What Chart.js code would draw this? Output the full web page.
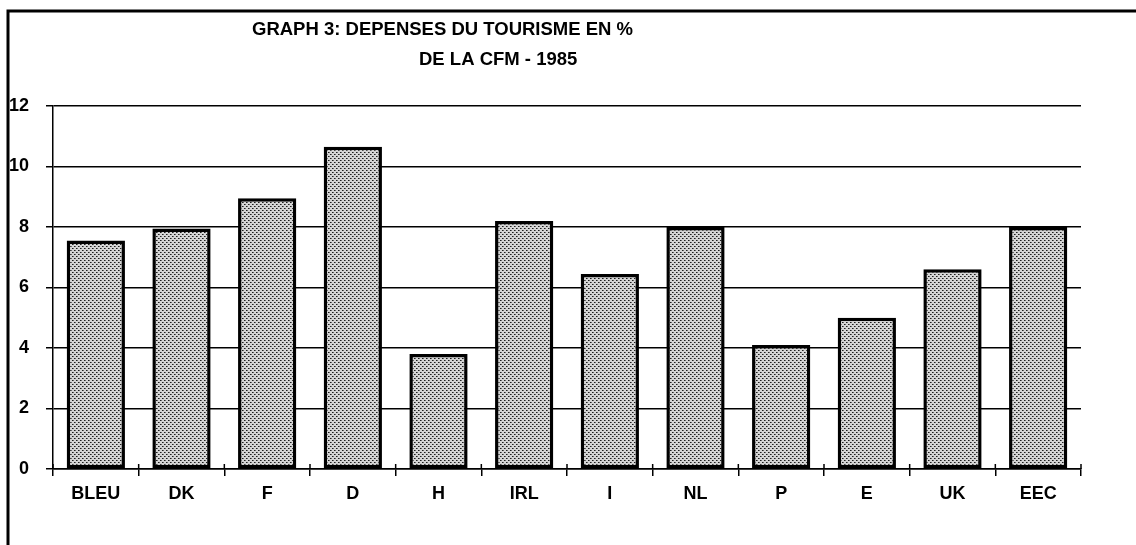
<!DOCTYPE html>
<html>
<head>
<meta charset="utf-8">
<script src="https://cdn.jsdelivr.net/npm/chart.js@4"></script>
<style>
  html, body { margin: 0; padding: 0; background: #fff; }
  #wrap { width: 1136px; height: 545px; position: relative; }
</style>
</head>
<body>
<div id="wrap"><canvas id="chart-bar"></canvas></div>
<script>
// values
var countries = ["BLEU", "DK", "F", "D", "H", "IRL", "I", "NL", "P", "E", "UK", "EEC"];
var tourism_pct = [7.55, 7.95, 8.95, 10.65, 3.8, 8.2, 6.45, 8.0, 4.1, 5.0, 6.6, 8.0];
var title_lines = ["GRAPH 3: DEPENSES DU TOURISME EN %", "DE LA CFM - 1985"];
var y_ticks = [0, 2, 4, 6, 8, 10, 12];

// stippled grey fill like the old print
function make_stipple(){
  var c = document.createElement("canvas");
  c.width = 4; c.height = 4;
  var g = c.getContext("2d");
  g.fillStyle = "#d4d4d4";
  g.fillRect(0, 0, 4, 4);
  g.fillStyle = "#1e1e1e";
  g.fillRect(0, 0, 1, 1);
  g.fillRect(2, 2, 1, 1);
  g.fillStyle = "#6a6a6a";
  g.fillRect(1, 0, 1, 1);
  g.fillRect(3, 2, 1, 1);
  return g.createPattern(c, "repeat");
}

var ctx = document.getElementById("chart-bar").getContext("2d");

// frame + title text
var frame_plugin = {
  id: "frame",
  afterDraw: function(chart){
    var c = chart.ctx;
    c.save();
    c.strokeStyle = "#000";
    c.lineWidth = 3;
    c.beginPath();
    c.moveTo(8, 545);
    c.lineTo(8, 11);
    c.lineTo(1136, 11);
    c.stroke();

    c.fillStyle = "#000";
    c.font = "bold 18.5px 'Liberation Sans', Arial, sans-serif";
    c.textAlign = "left";
    c.textBaseline = "alphabetic";
    c.fillText(title_lines[0], 252, 35);
    c.fillText(title_lines[1], 419, 65);

    // small upward ticks on the x axis
    var xs = chart.scales.x;
    var bottom = chart.chartArea.bottom;
    c.lineWidth = 1.5;
    c.beginPath();
    for (var i = 0; i <= countries.length; i++) {
      var px = xs.left + i * (xs.width / countries.length);
      c.moveTo(px, bottom - 5);
      c.lineTo(px, bottom);
    }
    c.stroke();
    c.restore();
  }
};

new Chart(ctx, {
  type: "bar",
  data: {
    labels: countries,
    datasets: [{
      label: "Dépenses du tourisme",
      data: tourism_pct,
      backgroundColor: make_stipple(),
      borderColor: "#000",
      borderWidth: 3.5,
      borderSkipped: false,
      barPercentage: 0.68,
      categoryPercentage: 1.0
    }]
  },
  options: {
    responsive: true,
    maintainAspectRatio: false,
    animation: false,
    layout: {
      padding: { left: 0, right: 55, top: 106, bottom: 0 }
    },
    plugins: {
      legend: { display: false },
      tooltip: { enabled: false }
    },
    scales: {
      y: {
        min: 0,
        max: 12,
        afterFit: function(scale){ scale.width = 53; },
        afterBuildTicks: function(scale){
          scale.ticks = y_ticks.map(function(v){ return { value: v }; });
        },
        border: { display: true, color: "#000", width: 1.5 },
        grid: {
          color: "#000",
          lineWidth: 1.5,
          drawTicks: true,
          tickLength: 7,
          tickColor: "#000"
        },
        ticks: {
          color: "#000",
          padding: 17,
          font: { size: 18, weight: "bold", family: "'Liberation Sans', Arial, sans-serif" }
        }
      },
      x: {
        afterFit: function(scale){ scale.height = 76; },
        border: { display: true, color: "#000", width: 1.5 },
        grid: {
          offset: true,
          drawOnChartArea: false,
          drawTicks: true,
          tickLength: 7,
          tickColor: "#000",
          lineWidth: 1.5
        },
        ticks: {
          color: "#000",
          padding: 7,
          font: { size: 18, weight: "bold", family: "'Liberation Sans', Arial, sans-serif" }
        }
      }
    }
  },
  plugins: [frame_plugin]
});
</script>
</body>
</html>
